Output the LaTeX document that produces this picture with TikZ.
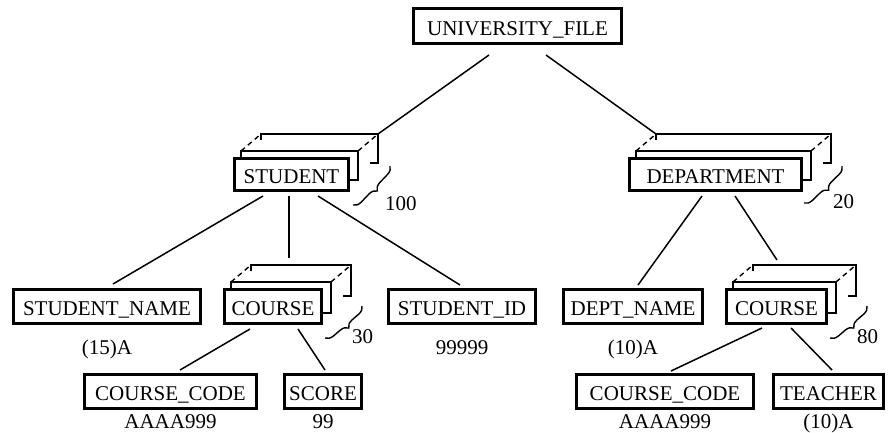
\documentclass[tikz,border=0pt]{standalone}
\usepackage{fontspec}
\setmainfont{Liberation Serif}
\usetikzlibrary{calc,decorations.pathreplacing}

\tikzset{
  ent/.style={draw, line width=3pt, fill=white, inner sep=0pt,
    text height=18pt, text depth=0pt, minimum height=34pt,
    font=\fontsize{21}{25}\selectfont},
  conn/.style={line width=1.5pt},
  backbox/.style={line width=1.6pt},
  hid/.style={line width=1.4pt, dash pattern=on 5pt off 4pt},
  cnt/.style={decorate, decoration={brace, amplitude=8pt}, line width=1.4pt},
  lbl/.style={font=\fontsize{21}{25}\selectfont, inner sep=0pt, anchor=base},
}

\newcommand\stackbehind[1]{%
  \draw[backbox] ($(#1.north west)+(8,0)$) -- ($(#1.north west)+(8,-6)$) coordinate (#1-anw)
     -- ($(#1.north east)+(8,-6)$) coordinate (#1-ane)
     -- ($(#1.south east)+(8,-12)$) -- ($(#1.south east)+(0,-12)$);
  \draw[backbox] ($(#1.north west)+(28,-17)$) -- ($(#1.north west)+(28,-23)$) coordinate (#1-bnw)
     -- ($(#1.north east)+(28,-23)$) coordinate (#1-bne)
     -- ($(#1.south east)+(28,-29)$) -- ($(#1.south east)+(20,-29)$);
  \draw[hid] (#1-anw) -- (#1-bnw) (#1-ane) -- (#1-bne);
}

\begin{document}
\begin{tikzpicture}[x=1pt,y=-1pt]
\useasboundingbox (0,0) rectangle (889,432);

% entity boxes
\node[ent, minimum width=208pt, minimum height=35pt] (UF) at (517.5,26) {UNIVERSITY\_FILE};
\node[ent, minimum width=114pt, minimum height=32pt] (S) at (291.5,174.5) {STUDENT};
\node[ent, minimum width=172pt, minimum height=32pt] (D) at (715.5,174.5) {DEPARTMENT};
\node[ent, minimum width=187pt] (SN) at (107,306.5) {STUDENT\_NAME};
\node[ent, minimum width=97pt] (CL) at (273,306.5) {COURSE};
\node[ent, minimum width=147pt] (SI) at (462,306.5) {STUDENT\_ID};
\node[ent, minimum width=139pt] (DN) at (633,306.5) {DEPT\_NAME};
\node[ent, minimum width=100pt] (CR) at (776.5,306.5) {COURSE};
\node[ent, minimum width=172pt] (CCL) at (170.5,391.5) {COURSE\_CODE};
\node[ent, minimum width=77pt] (SC) at (323,391.5) {SCORE};
\node[ent, minimum width=177pt] (CCR) at (665,391.5) {COURSE\_CODE};
\node[ent, minimum width=110pt] (TE) at (828.5,391.5) {TEACHER};

% repeated-record stacks
\stackbehind{S}
\stackbehind{D}
\stackbehind{CL}
\stackbehind{CR}

% connectors
\draw[conn] ($(UF.south)+(-28.5,10)$) -- (S-bne);
\draw[conn] ($(UF.south)+(28.5,10)$) -- (D-bnw);
\draw[conn] ($(S.south)+(-28.5,4)$) -- ($(SN.north)+(6,-4)$);
\draw[conn] ($(S.south)+(-2.5,4)$) -- ($(CL.north)+(16,-30)$);
\draw[conn] ($(S.south)+(26.5,4)$) -- ($(SI.north)+(-2,-3)$);
\draw[conn] ($(D.south)+(-13.5,4)$) -- ($(DN.north)+(5,-3)$);
\draw[conn] ($(D.south)+(19.5,4)$) -- ($(CR.north)+(0.5,-28)$);
\draw[conn] ($(CL.south)+(-23,4)$) -- ($(CCL.north)+(9.5,-3)$);
\draw[conn] ($(CL.south)+(25,4)$) -- ($(SC.north)+(2,-3)$);
\draw[conn] ($(CR.south)+(-14.5,3)$) -- ($(CCR.north)+(6,-2)$);
\draw[conn] ($(CR.south)+(14.5,3)$) -- ($(TE.north)+(3.5,-3)$);

% counts
\draw[cnt] ($(S.south east)+(40,-26)$) -- ($(S.south east)+(3,13)$);
\node[lbl, anchor=base west] (nS) at ($(S.south east)+(35,18)$) {100};
\draw[cnt] ($(D.south east)+(39,-26)$) -- ($(D.south east)+(1,11)$);
\node[lbl, anchor=base west] (nD) at ($(D.south east)+(30,16)$) {20};
\draw[cnt] ($(CL.south east)+(39,-19)$) -- ($(CL.south east)+(2,13)$);
\node[lbl, anchor=base west] (nCL) at ($(CL.south east)+(29,18)$) {30};
\draw[cnt] ($(CR.south east)+(39,-19)$) -- ($(CR.south east)+(2,13)$);
\node[lbl, anchor=base west] (nCR) at ($(CR.south east)+(29,18)$) {80};

% formats
\node[lbl] (fSN) at (107,354) {(15)A};
\node[lbl] (fSI) at (462,354) {99999};
\node[lbl] (fDN) at (633,354) {(10)A};
\node[lbl] (fCCL) at (170.5,428) {AAAA999};
\node[lbl] (fSC) at (323,428) {99};
\node[lbl] (fCCR) at (665,428) {AAAA999};
\node[lbl] (fTE) at (828.5,428) {(10)A};
\end{tikzpicture}
\end{document}
